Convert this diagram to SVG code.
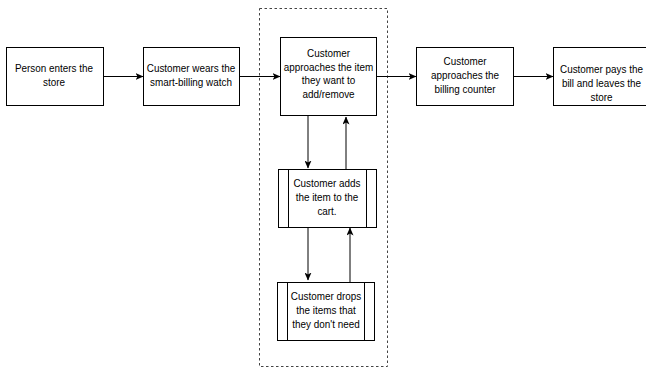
<svg xmlns="http://www.w3.org/2000/svg" width="646" height="369" viewBox="0 0 646 369">
  <style>
    .box { fill: #ffffff; stroke: #000000; stroke-width: 1; }
    .sub { fill: none; stroke: #000000; stroke-width: 1; }
    .lbl { font-family: "Liberation Sans", Arial, sans-serif; font-size: 11px; fill: #000000; text-anchor: middle; }
    .edge { fill: none; stroke: #000000; stroke-width: 1; }
    .group { fill: none; stroke: #444444; stroke-width: 1; stroke-dasharray: 2.5 2.5; }
  </style>
  <defs>
    <marker id="arrow" viewBox="0 0 8 7" refX="7.5" refY="3.5" markerWidth="8" markerHeight="7" markerUnits="userSpaceOnUse" orient="auto">
      <path d="M0,0 L8,3.5 L0,7 L2,3.5 Z" fill="#000000"/>
    </marker>
  </defs>
  <rect width="646" height="369" fill="#ffffff"/>

  <!-- dashed boundary around the item add/remove loop -->
  <rect id="loop-group" class="group" x="259.5" y="8.5" width="128" height="358"/>

  <g id="person-enters">
    <rect class="box" x="6.5" y="47.5" width="97" height="58"/>
    <g class="lbl" transform="translate(54,0) scale(0.9,1)">
      <text x="0" y="72">Person enters the</text>
      <text x="0" y="86">store</text>
    </g>
  </g>

  <g id="wears-watch">
    <rect class="box" x="143.5" y="47.5" width="96" height="58"/>
    <g class="lbl" transform="translate(191,0) scale(0.9,1)">
      <text x="0" y="72">Customer wears the</text>
      <text x="0" y="86">smart-billing watch</text>
    </g>
  </g>

  <g id="approaches-item">
    <rect class="box" x="280.5" y="37.5" width="96" height="78"/>
    <g class="lbl" transform="translate(328.5,0) scale(0.9,1)">
      <text x="0" y="57.5">Customer</text>
      <text x="0" y="71">approaches the item</text>
      <text x="0" y="84.5">they want to</text>
      <text x="0" y="98">add/remove</text>
    </g>
  </g>

  <g id="approaches-counter">
    <rect class="box" x="416.5" y="47.5" width="97" height="58"/>
    <g class="lbl" transform="translate(465,0) scale(0.9,1)">
      <text x="0" y="65.5">Customer</text>
      <text x="0" y="79.5">approaches the</text>
      <text x="0" y="93.5">billing counter</text>
    </g>
  </g>

  <g id="pays-leaves">
    <rect class="box" x="553.5" y="47.5" width="96" height="58"/>
    <g class="lbl" transform="translate(601.5,0) scale(0.9,1)">
      <text x="0" y="73.5">Customer pays the</text>
      <text x="0" y="87.5">bill and leaves the</text>
      <text x="0" y="101">store</text>
    </g>
  </g>

  <g id="adds-item">
    <rect class="box" x="278.5" y="169.5" width="98" height="58"/>
    <line class="sub" x1="288.5" y1="169.5" x2="288.5" y2="227.5"/>
    <line class="sub" x1="366.5" y1="169.5" x2="366.5" y2="227.5"/>
    <g class="lbl" transform="translate(327,0) scale(0.9,1)">
      <text x="0" y="187">Customer adds</text>
      <text x="0" y="201">the item to the</text>
      <text x="0" y="215">cart.</text>
    </g>
  </g>

  <g id="drops-items">
    <rect class="box" x="277.5" y="282.5" width="97" height="58"/>
    <line class="sub" x1="287.5" y1="282.5" x2="287.5" y2="340.5"/>
    <line class="sub" x1="364.5" y1="282.5" x2="364.5" y2="340.5"/>
    <g class="lbl" transform="translate(326,0) scale(0.9,1)">
      <text x="0" y="300">Customer drops</text>
      <text x="0" y="314">the items that</text>
      <text x="0" y="328">they don't need</text>
    </g>
  </g>

  <g id="connectors">
    <line class="edge" x1="103.5" y1="76.5" x2="143" y2="76.5" marker-end="url(#arrow)"/>
    <line class="edge" x1="239.5" y1="76.5" x2="280" y2="76.5" marker-end="url(#arrow)"/>
    <line class="edge" x1="376.5" y1="76.5" x2="416" y2="76.5" marker-end="url(#arrow)"/>
    <line class="edge" x1="513.5" y1="76.5" x2="553" y2="76.5" marker-end="url(#arrow)"/>
    <line class="edge" x1="308" y1="115.5" x2="308" y2="168" marker-end="url(#arrow)"/>
    <line class="edge" x1="346" y1="169.5" x2="346" y2="117" marker-end="url(#arrow)" stroke="#555555"/>
    <line class="edge" x1="308" y1="227.5" x2="308" y2="280" marker-end="url(#arrow)"/>
    <line class="edge" x1="350" y1="282.5" x2="350" y2="228" marker-end="url(#arrow)" stroke="#555555"/>
  </g>
</svg>
